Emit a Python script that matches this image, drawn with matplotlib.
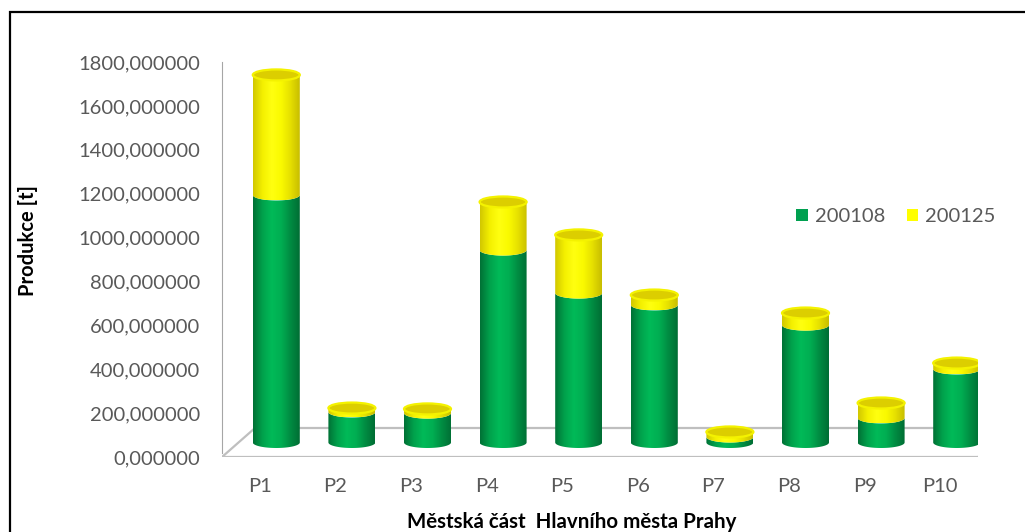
import numpy as np
import matplotlib.pyplot as plt
from matplotlib.patches import Polygon, Ellipse, Rectangle
from matplotlib.colors import LinearSegmentedColormap
from matplotlib.ticker import FuncFormatter

# produkce odpadu podle mestskych casti [t]
districts = ['P1', 'P2', 'P3', 'P4', 'P5', 'P6', 'P7', 'P8', 'P9', 'P10']
vals_200108 = [1128, 139, 134, 877, 681, 627, 25, 535, 112, 335]
vals_200125 = [547, 18, 19, 219, 265, 45, 23, 55, 68, 27]
series_names = ['200108', '200125']

W, H = 1025, 532
plt.rcParams['font.family'] = ['Lato', 'DejaVu Sans']

fig = plt.figure(figsize=(W / 100, H / 100), dpi=100)
ax = fig.add_axes([222 / W, (H - 457) / H, (978 - 222) / W, (457 - 62) / H])
ax.set_xlim(-0.5, 9.5)
ax.set_ylim(0, 1800)

# prepocet pixelu na datove jednotky (hloubka podlahy, elipsy valcu)
px_x = ax.bbox.width / 10.0
px_y = ax.bbox.height / 1800.0
depth_x, depth_y = 33 / px_x, 29 / px_y
bar_hw = 23.5 / px_x
ell_h = 5.5 / px_y

# podlaha
floor = np.array([[-0.5, 0], [9.5, 0], [9.5 + depth_x, depth_y], [-0.5 + depth_x, depth_y]])
ax.add_patch(Polygon(floor, closed=True, fc='white', ec='#BFBFBF', lw=1.6, zorder=1))

green_cm = LinearSegmentedColormap.from_list(
    'g', ['#007236', '#00A24C', '#00BA58', '#00AE52', '#008C42', '#006E34'])
yellow_cm = LinearSegmentedColormap.from_list(
    'y', ['#D2C800', '#F4F000', '#FFFF10', '#FAFA00', '#E6E000', '#C8BE00'])
grad = np.linspace(0, 1, 64).reshape(1, -1)


def body(xc, y0, y1, cmap, z):
    t1 = np.linspace(np.pi, 2 * np.pi, 50)
    t2 = t1[::-1]
    verts = np.vstack([
        np.column_stack([xc + bar_hw * np.cos(t1), y0 + ell_h * np.sin(t1)]),
        np.column_stack([xc + bar_hw * np.cos(t2), y1 + ell_h * np.sin(t2)]),
    ])
    poly = Polygon(verts, closed=True, fc='none', ec='none', zorder=z)
    ax.add_patch(poly)
    im = ax.imshow(grad, cmap=cmap, aspect='auto', zorder=z,
                   extent=(xc - bar_hw, xc + bar_hw, y0 - ell_h, y1 + ell_h))
    im.set_clip_path(poly)


base = depth_y / 2
for i in range(len(districts)):
    xc = i + depth_x / 2
    g_top = base + vals_200108[i]
    y_top = g_top + vals_200125[i]
    z = 3 + i * 3
    body(xc, base, g_top, green_cm, z)
    body(xc, g_top, y_top, yellow_cm, z + 1)
    ax.add_patch(Ellipse((xc, y_top), 2 * bar_hw, 2 * ell_h,
                         fc='#DCCE00', ec='#F4F200', lw=1.6, zorder=z + 2))

ax.set_xlim(-0.5, 9.5)
ax.set_ylim(0, 1800)

for s in ['top', 'right', 'bottom']:
    ax.spines[s].set_visible(False)
ax.spines['left'].set_color('#A6A6A6')
ax.spines['left'].set_bounds(20, 1800)
ax.patch.set_visible(False)

ax.set_xticks(range(len(districts)))
ax.set_xticklabels(districts)
ax.set_yticks(np.arange(0, 1801, 200))
ax.yaxis.set_major_formatter(FuncFormatter(lambda v, p: f'{v:.6f}'.replace('.', ',')))
ax.tick_params(axis='both', length=0, labelsize=14.5, labelcolor='#595959')
ax.tick_params(axis='y', pad=15.5)
ax.tick_params(axis='x', pad=15)

fig.text(28 / W, 1 - 241 / H, 'Produkce [t]', rotation=90, ha='center', va='center',
         fontsize=14.5, fontweight='bold', color='black')
fig.text(572 / W, 1 - 522 / H, 'Městská část  Hlavního města Prahy', ha='center',
         va='center', fontsize=14.8, fontweight='bold', color='black')

handles = [Rectangle((0, 0), 1, 1, fc='#00A050'), Rectangle((0, 0), 1, 1, fc='#FFFF00')]
fig.legend(handles, series_names, loc='center', bbox_to_anchor=(896 / W, 1 - 217 / H),
           ncol=2, frameon=False, fontsize=14.5, labelcolor='#595959',
           handlelength=0.55, handleheight=0.55, handletextpad=0.35, columnspacing=1.1)

# ramecek grafu
fig.add_artist(Rectangle((10 / W, -0.05), 1.2, (H - 12) / H + 0.05,
                         transform=fig.transFigure, fill=False, ec='black', lw=1.6))

fig.savefig('out.png', dpi=100)
